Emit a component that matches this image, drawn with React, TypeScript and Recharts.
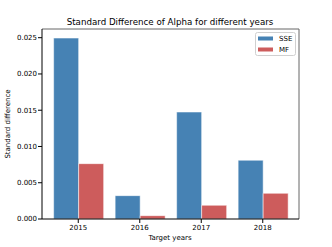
import {
  BarChart,
  Bar,
  XAxis,
  YAxis,
  Customized,
} from "recharts";

/** --- Data --- */
const years = ["2015", "2016", "2017", "2018"];
const sseValues = [0.02495, 0.00322, 0.01475, 0.0081];
const mfValues = [0.00763, 0.00046, 0.00189, 0.00354];
const yTicks = [0, 0.005, 0.01, 0.015, 0.02, 0.025];

const SSE_COLOR = "#4682b4";
const MF_COLOR = "#cd5c5c";
const FONT = "DejaVu Sans, sans-serif";

const seriesList = [
  { key: "SSE", color: SSE_COLOR },
  { key: "MF", color: MF_COLOR },
];

const data = years.map((year, i) => ({
  year,
  SSE: sseValues[i],
  MF: mfValues[i],
}));

// plot box: left 42, top 29, right 299, bottom 219
const Frame = () => (
  <g>
    <line x1={42} y1={29} x2={299} y2={29} stroke="#666" strokeWidth={1} />
    <line x1={299} y1={29} x2={299} y2={219} stroke="#666" strokeWidth={1} />
  </g>
);

const LegendBox = () => (
  <g fontFamily={FONT} fontSize={7} fill="#000">
    <rect x={255.5} y={32.5} width={40} height={23} rx={2} fill="#fff" stroke="#d0d0d0" />
    {seriesList.map((s, i) => (
      <g key={s.key}>
        <rect x={258} y={36.5 + i * 11} width={15} height={4} fill={s.color} />
        <text x={279} y={41 + i * 11}>{s.key}</text>
      </g>
    ))}
  </g>
);

const Labels = () => (
  <g fontFamily={FONT} fill="#000">
    <text x={170} y={25} textAnchor="middle" fontSize={8.7}>
      Standard Difference of Alpha for different years
    </text>
    <text x={170} y={240} textAnchor="middle" fontSize={7}>
      Target years
    </text>
    <text
      x={9.5}
      y={124}
      textAnchor="middle"
      fontSize={7}
      transform="rotate(-90 9.5 124)"
    >
      Standard difference
    </text>
  </g>
);

/** --- Component --- */
export default function App() {
  return (
    <div style={{ position: "absolute", left: 0, top: 0, width: 332, height: 247, background: "#fff" }}>
      <BarChart
        width={332}
        height={247}
        data={data}
        margin={{ top: 29, right: 33, bottom: 10, left: 8 }}
        barGap={0}
        barCategoryGap="10%"
      >
        <XAxis
          dataKey="year"
          padding={{ left: 5.5, right: 5.5 }}
          height={18}
          tickSize={4}
          tickMargin={2}
          tick={{ fontSize: 7, fill: "#000", fontFamily: FONT }}
          axisLine={{ stroke: "#000", strokeWidth: 1 }}
          tickLine={{ stroke: "#000" }}
        />
        <YAxis
          domain={[0, 0.0262]}
          ticks={yTicks}
          width={34}
          tickSize={4}
          tickMargin={1}
          allowDataOverflow
          tickFormatter={(v: number) => v.toFixed(3)}
          tick={{ fontSize: 7, fill: "#000", fontFamily: FONT }}
          axisLine={{ stroke: "#000", strokeWidth: 1 }}
          tickLine={{ stroke: "#000" }}
        />
        <Bar
          dataKey="SSE"
          fill={SSE_COLOR}
          stroke="#fff"
          strokeOpacity={0.5}
          strokeWidth={1}
          isAnimationActive={false}
        />
        <Bar
          dataKey="MF"
          fill={MF_COLOR}
          stroke="#fff"
          strokeOpacity={0.5}
          strokeWidth={1}
          isAnimationActive={false}
        />
        <Customized component={Frame} />
        <Customized component={LegendBox} />
        <Customized component={Labels} />
      </BarChart>
    </div>
  );
}
